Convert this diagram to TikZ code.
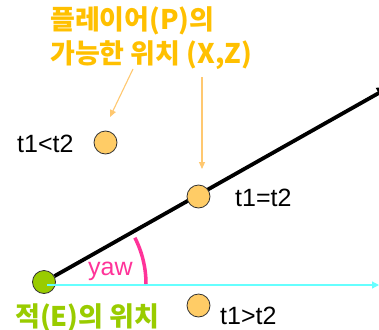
\documentclass[tikz,border=0pt]{standalone}
\usepackage{fontspec}
\setmainfont{Liberation Sans}
\newfontfamily\kr{Noto Sans CJK KR}
\usetikzlibrary{arrows.meta}
\definecolor{ttl}{HTML}{FFC000}
\definecolor{dotc}{HTML}{FFCC66}
\definecolor{grn}{HTML}{99CC00}
\definecolor{pnk}{HTML}{FF3399}
\definecolor{cyn}{HTML}{66FFFF}
\definecolor{ptrc}{HTML}{FFC870}
\begin{document}
\begin{tikzpicture}[x=1pt,y=-1pt,
  dotnode/.style={circle,draw=black!80,line width=0.8pt,fill=dotc,minimum size=23pt,inner sep=0pt},
  lbl/.style={font=\fontsize{25}{30}\selectfont,inner sep=0pt,anchor=base west},
  kor/.style={font=\kr\bfseries\fontsize{27}{32}\selectfont,inner sep=0pt,anchor=base west},
  ptr/.style={draw=ptrc,line width=1.1pt,-{Triangle[length=7pt,width=6pt]}}]
\path[use as bounding box,fill=white] (0,0) rectangle (379,329);
\clip (0,0) rectangle (379,329);
% enemy
\node[circle,draw=black!80,line width=0.8pt,fill=grn,minimum size=23pt,inner sep=0pt] (E) at (44,282) {};
\coordinate (bend) at (390,86.7);
\draw[line width=3.8pt,-{Triangle[length=13pt,width=11pt]}] (E) -- (bend);
\coordinate (cs) at (47,285);
\coordinate (ce) at (379,285);
\draw[cyn,line width=1.2pt,-{Triangle[length=7pt,width=7pt]}] (cs) -- (ce);
% yaw arc
\draw[pnk,line width=3.5pt] (146,284) arc[start angle=0,end angle=-27,radius=102];
\node[lbl,text=pnk] (yaw) at (88,275) {yaw};
% player positions
\node[dotnode] (lt) at (105.5,142.5) {};
\node[dotnode] (eq) at (198.5,196.5) {};
\node[dotnode] (gt) at (198.5,305.5) {};
\node[lbl] (ltl) at (17,152.5) {t1<t2};
\node[lbl] (eql) at (235,206) {t1=t2};
\node[lbl] (gtl) at (220,324) {t1>t2};
% titles
\node[kor,text=ttl] (t1) at (50,30) {플레이어(P)의};
\node[kor,text=ttl] (t2) at (50,63) {가능한 위치 (X,Z)};
\node[kor,text=grn] (el) at (15,326) {적(E)의 위치};
% pointers
\coordinate (p1s) at (133,69);
\coordinate (p1e) at (110,117);
\coordinate (p2s) at (202,77);
\coordinate (p2e) at (202,169);
\draw[ptr] (p1s) -- (p1e);
\draw[ptr] (p2s) -- (p2e);
\end{tikzpicture}
\end{document}
